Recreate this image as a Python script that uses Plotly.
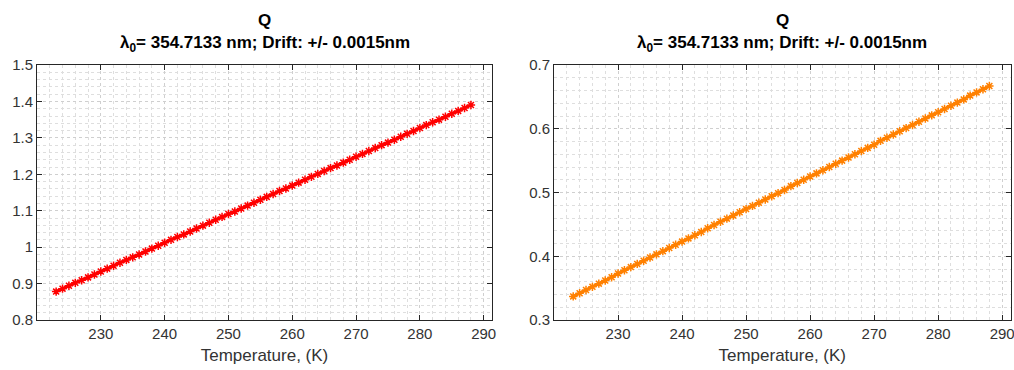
import plotly.graph_objects as go

# ---- data ----
temperature = list(range(223, 289))  # K

q_left = [0.878, 0.886, 0.894, 0.902, 0.909, 0.917, 0.925, 0.933, 0.941, 0.949,
          0.957, 0.965, 0.972, 0.980, 0.988, 0.996, 1.004, 1.012, 1.020, 1.028,
          1.035, 1.043, 1.051, 1.059, 1.067, 1.075, 1.083, 1.091, 1.098, 1.106,
          1.114, 1.122, 1.130, 1.138, 1.146, 1.154, 1.161, 1.169, 1.177, 1.185,
          1.193, 1.201, 1.209, 1.217, 1.224, 1.232, 1.240, 1.248, 1.256, 1.264,
          1.272, 1.280, 1.287, 1.295, 1.303, 1.311, 1.319, 1.327, 1.335, 1.343,
          1.350, 1.358, 1.366, 1.374, 1.382, 1.390]

q_right = [0.337, 0.342, 0.347, 0.352, 0.357, 0.362, 0.367, 0.373, 0.378, 0.383,
           0.388, 0.393, 0.398, 0.403, 0.408, 0.413, 0.418, 0.423, 0.428, 0.433,
           0.438, 0.444, 0.449, 0.454, 0.459, 0.464, 0.469, 0.474, 0.479, 0.484,
           0.489, 0.494, 0.499, 0.504, 0.510, 0.515, 0.520, 0.525, 0.530, 0.535,
           0.540, 0.545, 0.550, 0.555, 0.560, 0.565, 0.570, 0.575, 0.581, 0.586,
           0.591, 0.596, 0.601, 0.606, 0.611, 0.616, 0.621, 0.626, 0.631, 0.636,
           0.641, 0.646, 0.652, 0.657, 0.662, 0.667]

title_line1 = "Q"
title_line2 = "λ<sub>0</sub>= 354.7133 nm; Drift: +/- 0.0015nm"
x_label = "Temperature, (K)"
x_ticks = [230, 240, 250, 260, 270, 280, 290]
y_ticks_left = [0.8, 0.9, 1.0, 1.1, 1.2, 1.3, 1.4, 1.5]
y_ticks_right = [0.3, 0.4, 0.5, 0.6, 0.7]

FONT = "Liberation Sans, Arial, Helvetica, sans-serif"
AX = "#262626"
TXT = "#333333"

fig = go.Figure()
fig.add_trace(go.Scatter(x=temperature, y=q_left, mode="lines+markers",
                         line=dict(color="#ff0000", width=2.5),
                         marker=dict(symbol="asterisk-open", size=7, color="#ff0000",
                                     line=dict(color="#ff0000", width=1.5)),
                         xaxis="x", yaxis="y", showlegend=False))
fig.add_trace(go.Scatter(x=temperature, y=q_right, mode="lines+markers",
                         line=dict(color="#ff8000", width=2.5),
                         marker=dict(symbol="asterisk-open", size=7, color="#ff8000",
                                     line=dict(color="#ff8000", width=1.5)),
                         xaxis="x2", yaxis="y2", showlegend=False))

ydom = [1 - 320 / 370, 1 - 65 / 370]
xdom1 = [37 / 1014, 492 / 1014]
xdom2 = [554 / 1014, 1010.5 / 1014]

def xaxis(dom, anchor):
    return dict(domain=dom, anchor=anchor, range=[220, 291.3], automargin=False,
                tickvals=x_ticks, ticks="inside", ticklen=5, tickcolor=AX,
                ticklabeloverflow="allow",
                showline=True, linecolor=AX, linewidth=1, mirror="ticks",
                showgrid=True, gridcolor="#cfcfcf", griddash="dot", gridwidth=1,
                minor=dict(dtick=2, showgrid=True, gridcolor="#dedede", griddash="dot", ticks=""),
                zeroline=False,
                tickfont=dict(family=FONT, size=15, color=TXT),
                title=dict(text=x_label, font=dict(family=FONT, size=17, color=TXT), standoff=8))

def yaxis(dom, anchor, rng, ticks, minor_dt):
    return dict(domain=dom, anchor=anchor, range=rng, tickvals=ticks, automargin=False,
                ticks="inside", ticklen=5, tickcolor=AX,
                ticklabeloverflow="allow",
                showline=True, linecolor=AX, linewidth=1, mirror="ticks",
                showgrid=True, gridcolor="#cfcfcf", griddash="dot", gridwidth=1,
                minor=dict(dtick=minor_dt, showgrid=True, gridcolor="#dedede", griddash="dot", ticks=""),
                zeroline=False,
                tickfont=dict(family=FONT, size=15, color=TXT))

fig.update_layout(
    width=1014, height=370,
    margin=dict(l=0, r=0, t=0, b=0, autoexpand=False),
    paper_bgcolor="white", plot_bgcolor="white",
    xaxis=xaxis(xdom1, "y"),
    yaxis=yaxis(ydom, "x", [0.8, 1.5], y_ticks_left, 0.02),
    xaxis2=xaxis(xdom2, "y2"),
    yaxis2=yaxis(ydom, "x2", [0.3, 0.7], y_ticks_right, 0.02),
)

for dom in (xdom1, xdom2):
    cx = (dom[0] + dom[1]) / 2
    fig.add_annotation(x=cx, y=1 - 21 / 370, xref="paper", yref="paper",
                       text="<b>" + title_line1 + "</b>", showarrow=False,
                       font=dict(family=FONT, size=17, color="#000000"),
                       xanchor="center", yanchor="middle")
    fig.add_annotation(x=cx, y=1 - 44 / 370, xref="paper", yref="paper",
                       text="<b>" + title_line2 + "</b>", showarrow=False,
                       font=dict(family=FONT, size=17, color="#000000"),
                       xanchor="center", yanchor="middle")

fig.write_html("out.html", config={"displayModeBar": False},
               post_script="document.body.style.margin='0';document.body.style.overflow='hidden';")
